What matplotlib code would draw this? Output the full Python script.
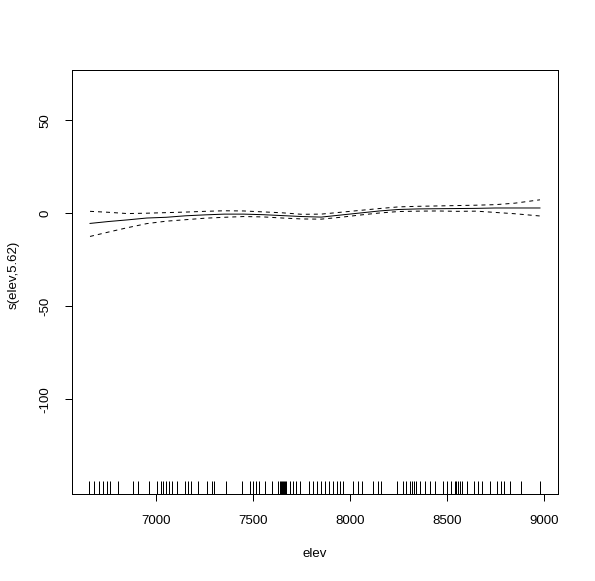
import matplotlib
matplotlib.use("Agg")
import matplotlib.pyplot as plt
import matplotlib.transforms as mtransforms

plt.rcParams['font.family'] = ['Liberation Sans', 'DejaVu Sans']

# grid of elevation values for the smooth
elev_grid = [6657, 6750, 6850, 6950, 7050, 7150, 7250, 7350, 7450, 7550, 7650, 7750,
             7850, 7950, 8050, 8150, 8250, 8350, 8450, 8550, 8650, 8750, 8850, 8979]
fit = [-5.5, -4.5, -3.6, -2.6, -2.2, -1.4, -0.9, -0.5, -0.5, -0.8, -1.3, -1.8,
       -2.1, -1.0, 0.1, 1.2, 2.0, 2.3, 2.4, 2.5, 2.6, 2.8, 2.8, 2.8]
upper = [1.0, 0.5, -0.2, 0.0, 0.3, 0.6, 1.0, 1.3, 1.2, 0.7, 0.2, -0.6,
         -0.5, 0.5, 1.5, 2.5, 3.4, 3.7, 3.9, 4.1, 4.3, 4.6, 5.4, 7.2]
lower = [-12.5, -10.2, -7.8, -5.6, -4.3, -3.5, -2.7, -2.2, -1.8, -2.0, -2.6, -3.1,
         -3.2, -2.2, -1.0, 0.1, 0.9, 1.1, 1.2, 1.0, 1.1, 0.4, -0.3, -1.5]

# observed elevations (rug)
rug_elev = [6654, 6680, 6703, 6722, 6747, 6758, 6801, 6881, 6905, 6963, 7003, 7021,
            7034, 7049, 7062, 7080, 7104, 7147, 7165, 7180, 7216, 7259, 7284, 7299,
            7361, 7443, 7485, 7499, 7513, 7529, 7560, 7594, 7627, 7637, 7642, 7647,
            7652, 7658, 7663, 7670, 7688, 7704, 7722, 7740, 7786, 7807, 7830, 7848,
            7869, 7891, 7912, 7931, 7946, 7962, 8015, 8041, 8058, 8115, 8144, 8158,
            8239, 8273, 8289, 8307, 8320, 8331, 8338, 8359, 8385, 8410, 8436, 8480,
            8500, 8522, 8539, 8548, 8556, 8565, 8576, 8600, 8639, 8658, 8681, 8720,
            8756, 8777, 8792, 8822, 8883, 8981]

xticks = [7000, 7500, 8000, 8500, 9000]
yticks = [-100, -50, 0, 50]

fig = plt.figure(figsize=(5.95, 5.81), dpi=100)
ax = fig.add_axes([72/595, 87/581, 486/595, 424/581])

lw = 0.72
ax.plot(elev_grid, fit, color='black', linewidth=lw)
ax.plot(elev_grid, upper, color='black', linewidth=lw, linestyle=(0, (4, 4)))
ax.plot(elev_grid, lower, color='black', linewidth=lw, linestyle=(0, (4, 4)))

trans = mtransforms.blended_transform_factory(ax.transData, ax.transAxes)
ax.vlines(rug_elev, 0, 0.03, transform=trans, color='black', linewidth=lw)

ax.set_xlim(6564, 9072)
ax.set_ylim(-151, 77)
ax.set_xticks(xticks)
ax.set_yticks(yticks)
ax.set_xticklabels([str(t) for t in xticks], fontsize=9.5)
ax.set_yticklabels([str(t) for t in yticks], fontsize=9.5, rotation=90, va='center')
ax.tick_params(direction='out', length=5, width=lw)
ax.tick_params(axis='x', pad=10)
ax.tick_params(axis='y', pad=10)
for s in ax.spines.values():
    s.set_linewidth(lw)

ax.set_xlabel('elev', fontsize=9.5, labelpad=15)
ax.set_ylabel('s(elev,5.62)', fontsize=9.5)
ax.yaxis.set_label_coords(-52/486, 0.5 + 7/424)

fig.savefig('out.png', dpi=100)
